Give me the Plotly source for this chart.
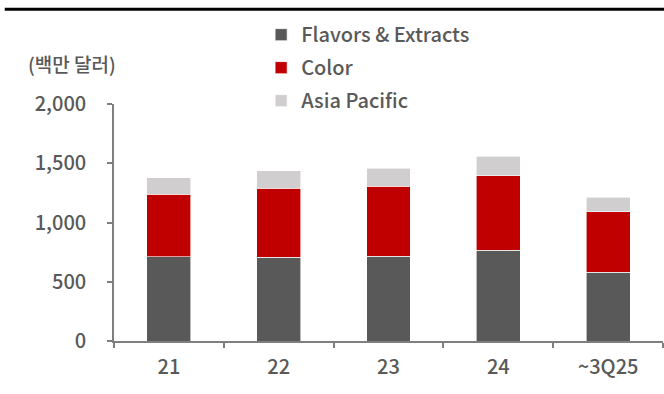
import plotly.graph_objects as go

categories = ["21", "22", "23", "24", "~3Q25"]
flavors = [711, 706, 715, 765, 580]
color = [529, 585, 593, 630, 509]
asia = [138, 144, 149, 163, 126]

series_names = ["Flavors & Extracts", "Color", "Asia Pacific"]
series_colors = ["#595959", "#C00000", "#D0CECE"]

FONT = "Noto Sans CJK KR, Noto Sans, sans-serif"
TEXT = "#595959"
W = 500

fig = go.Figure()
for i, (name, vals) in enumerate(zip(series_names, [flavors, color, asia])):
    fig.add_trace(go.Bar(
        x=categories, y=vals, name=name, legendgroup=name,
        marker=dict(color=series_colors[i], line=dict(color="white", width=0.6)),
        width=0.4,
    ))

fig.update_layout(
    width=664, height=394,
    margin=dict(l=114, r=1, t=104, b=53),
    barmode="stack",
    plot_bgcolor="white", paper_bgcolor="white",
    font=dict(family=FONT, size=20, color=TEXT, weight=W),
    showlegend=True,
    legend=dict(
        x=0.268, y=1.375, xanchor="left", yanchor="top",
        traceorder="grouped", tracegroupgap=4,
        font=dict(size=20, color=TEXT, weight=W),
        itemwidth=30, bgcolor="rgba(0,0,0,0)",
    ),
    xaxis=dict(
        type="category", range=[-0.5, 4.5],
        showline=True, linecolor="#7f7f7f", linewidth=1.5,
        ticks="outside", ticklen=5, tickcolor="#7f7f7f", tickwidth=1.5,
        tickson="boundaries", showgrid=False, ticklabelstandoff=7,
        tickfont=dict(size=20, color=TEXT, weight=W),
    ),
    yaxis=dict(
        range=[0, 2000], tickvals=[0, 500, 1000, 1500, 2000],
        ticktext=["0", "500", "1,000", "1,500", "2,000"],
        showline=True, linecolor="#7f7f7f", linewidth=1.5,
        ticks="outside", ticklen=5, tickcolor="#7f7f7f", tickwidth=1.5,
        showgrid=False, zeroline=False, ticklabelstandoff=17,
        tickfont=dict(size=20, color=TEXT, weight=W),
    ),
    annotations=[dict(
        text="(백만 달러)", xref="paper", yref="paper",
        x=-0.076, y=1.172, xanchor="center", yanchor="middle",
        showarrow=False, font=dict(size=19, color=TEXT, weight=W),
    )],
    shapes=[dict(
        type="line", xref="paper", yref="paper",
        x0=-0.199, x1=1.01, y0=1.40, y1=1.40,
        line=dict(color="black", width=3),
    )],
)

fig.write_html("out.html")
